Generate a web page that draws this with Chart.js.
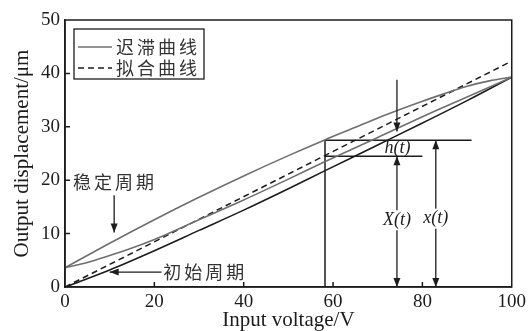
<!DOCTYPE html>
<html>
<head>
<meta charset="utf-8">
<script src="https://cdn.jsdelivr.net/npm/chart.js@4/dist/chart.umd.min.js"></script>
<style>
html, body { margin: 0; padding: 0; background: #fff; }
#marco { width: 530px; height: 331px; }
</style>
</head>
<body>
<div id="marco"><canvas id="grafico-histeresis"></canvas></div>
<script>
/* Datos */

// ciclo estable, rama de subida
var xSubida = [0, 10, 20, 30, 40, 50, 58, 65, 72, 80, 86, 90, 95, 100];
var ySubida = [3.6, 8.2, 12.6, 16.8, 20.8, 24.6, 27.5, 29.9, 32.3, 34.8, 36.5, 37.6, 38.6, 39.3];

// ciclo estable, rama de bajada
var xBajada = [0, 5, 10, 15, 20, 30, 40, 50, 58, 70, 80, 90, 100];
var yBajada = [3.6, 4.6, 5.9, 7.3, 8.9, 12.6, 16.3, 20.2, 23.4, 28.0, 31.9, 35.6, 39.3];

// ciclo inicial
var xInicial = [0, 10, 20, 30, 40, 50, 58, 70, 80, 90, 100];
var yInicial = [0, 3.2, 6.8, 10.6, 14.4, 18.4, 21.7, 26.6, 30.7, 34.9, 39.3];

// curva ajustada (recta)
var xAjuste = [0, 100];
var yAjuste = [0, 42.3];

// lineas de referencia h(t)
var xCorte = 58.2;
var xReal = 27.5, xAjustado = 24.5;
var finReal = 91, finAjustado = 80;
var xFlechaX = 74.3, xFlechax = 83.0;

var ticksX = [0, 20, 40, 60, 80, 100];
var ticksY = [0, 10, 20, 30, 40, 50];

var textosLeyenda = ['迟滞曲线', '拟合曲线'];

function puntos(xs, ys) {
    return xs.map(function (x, i) { return { x: x, y: ys[i] }; });
}

var gris = '#6f6f6f';
var negro = '#1c1c1c';
var serif = '"Liberation Serif", "Times New Roman", serif';
var cjk = '"Noto Sans CJK SC", sans-serif';

function textoEspaciado(ctx, txt, x, y, paso) {
    for (var i = 0; i < txt.length; i++) {
        ctx.fillText(txt[i], x + i * paso, y);
    }
}

function flecha(ctx, x1, y1, x2, y2) {
    ctx.beginPath();
    ctx.moveTo(x1, y1);
    ctx.lineTo(x2, y2);
    ctx.stroke();
    var ang = Math.atan2(y2 - y1, x2 - x1);
    var largo = 9, ancho = 3.5;
    ctx.beginPath();
    ctx.moveTo(x2, y2);
    ctx.lineTo(x2 - largo * Math.cos(ang) + ancho * Math.sin(ang), y2 - largo * Math.sin(ang) - ancho * Math.cos(ang));
    ctx.lineTo(x2 - largo * Math.cos(ang) - ancho * Math.sin(ang), y2 - largo * Math.sin(ang) + ancho * Math.cos(ang));
    ctx.closePath();
    ctx.fill();
}

var anotaciones = {
    id: 'anotaciones',
    afterDraw: function (chart) {
        var ctx = chart.ctx, a = chart.chartArea;
        var sx = chart.scales.x, sy = chart.scales.y;
        function px(v) { return sx.getPixelForValue(v); }
        function py(v) { return sy.getPixelForValue(v); }

        ctx.save();
        ctx.strokeStyle = negro;
        ctx.fillStyle = negro;
        ctx.lineWidth = 1.5;

        // marco completo
        ctx.strokeRect(a.left, a.top, a.right - a.left, a.bottom - a.top);

        // marcas interiores
        ctx.beginPath();
        ticksY.slice(1, -1).forEach(function (v) {
            ctx.moveTo(a.left, py(v));
            ctx.lineTo(a.left + 5, py(v));
        });
        ticksX.slice(1, -1).forEach(function (v) {
            ctx.moveTo(px(v), a.bottom);
            ctx.lineTo(px(v), a.bottom - 5);
        });
        ctx.stroke();

        // flechas de x(t) y X(t)
        ctx.lineWidth = 1.3;
        flecha(ctx, px(xFlechaX), py(12.5), px(xFlechaX), py(0));
        flecha(ctx, px(xFlechaX), py(12.5), px(xFlechaX), py(xAjustado));
        flecha(ctx, px(xFlechax), py(12.5), px(xFlechax), py(0));
        flecha(ctx, px(xFlechax), py(12.5), px(xFlechax), py(xReal));
        flecha(ctx, px(xFlechaX), py(38.8), px(xFlechaX), py(29.1));

        // flechas de los ciclos
        flecha(ctx, px(11), py(17.2), px(11), py(10.2));
        flecha(ctx, px(21.6), py(2.8), px(10), py(2.8));

        // etiquetas en cursiva
        ctx.font = 'italic 18px ' + serif;
        ctx.textAlign = 'center';
        ctx.textBaseline = 'middle';
        [['X(t)', xFlechaX, 12.5], ['x(t)', xFlechax, 12.8]].forEach(function (e) {
            var w = ctx.measureText(e[0]).width;
            ctx.fillStyle = '#fff';
            ctx.fillRect(px(e[1]) - w / 2 - 1, py(e[2]) - 10, w + 2, 20);
            ctx.fillStyle = negro;
            ctx.fillText(e[0], px(e[1]), py(e[2]));
        });
        ctx.fillText('h(t)', px(74.4), py(26.0));

        // textos de los ciclos
        ctx.font = '18px ' + cjk;
        ctx.fillStyle = '#333';
        ctx.textAlign = 'left';
        textoEspaciado(ctx, '稳定周期', px(1.8), py(19.7), 21);
        textoEspaciado(ctx, '初始周期', px(22.0), py(2.8), 21);

        // leyenda
        var lx = a.left + 9, ly = a.top + 9;
        ctx.lineWidth = 1.3;
        ctx.strokeStyle = negro;
        ctx.strokeRect(lx, ly, 130, 50);
        ctx.lineWidth = 1.5;
        ctx.strokeStyle = gris;
        ctx.beginPath();
        ctx.moveTo(lx + 4, ly + 18);
        ctx.lineTo(lx + 38, ly + 18);
        ctx.stroke();
        ctx.strokeStyle = negro;
        ctx.setLineDash([6, 4]);
        ctx.beginPath();
        ctx.moveTo(lx + 4, ly + 39);
        ctx.lineTo(lx + 38, ly + 39);
        ctx.stroke();
        ctx.setLineDash([]);
        textoEspaciado(ctx, textosLeyenda[0], lx + 42, ly + 18, 21);
        textoEspaciado(ctx, textosLeyenda[1], lx + 42, ly + 39, 21);

        // titulos de ejes
        ctx.fillStyle = negro;
        ctx.font = '21px ' + serif;
        ctx.textAlign = 'center';
        ctx.fillText('Input voltage/V', (a.left + a.right) / 2, chart.height - 11);
        ctx.translate(22, (a.top + a.bottom) / 2);
        ctx.rotate(-Math.PI / 2);
        ctx.fillText('Output displacement/μm', 0, 0);
        ctx.restore();
    }
};

var marco = document.getElementById('grafico-histeresis').getContext('2d');

var grafico = new Chart(marco, {
    type: 'line',
    data: {
        datasets: [
            { data: puntos(xSubida, ySubida), borderColor: gris, borderWidth: 1.6, cubicInterpolationMode: 'monotone' },
            { data: puntos(xBajada, yBajada), borderColor: gris, borderWidth: 1.6, cubicInterpolationMode: 'monotone' },
            { data: puntos(xInicial, yInicial), borderColor: negro, borderWidth: 1.6, cubicInterpolationMode: 'monotone' },
            { data: puntos(xAjuste, yAjuste), borderColor: negro, borderWidth: 1.5, borderDash: [6, 4] },
            // referencias de h(t)
            { data: [{ x: xCorte, y: 0 }, { x: xCorte, y: xReal }], borderColor: negro, borderWidth: 1.5 },
            { data: [{ x: xCorte, y: xReal }, { x: finReal, y: xReal }], borderColor: negro, borderWidth: 1.5 },
            { data: [{ x: xCorte, y: xAjustado }, { x: finAjustado, y: xAjustado }], borderColor: negro, borderWidth: 1.5 }
        ]
    },
    options: {
        responsive: true,
        maintainAspectRatio: false,
        animation: false,
        elements: { point: { radius: 0 } },
        layout: { padding: { top: 20, right: 18, left: 0, bottom: 0 }, autoPadding: false },
        plugins: { legend: { display: false }, tooltip: { enabled: false } },
        scales: {
            x: {
                type: 'linear',
                min: 0,
                max: 100,
                afterFit: function (s) { s.height = 44; },
                afterBuildTicks: function (s) { s.ticks = ticksX.map(function (v) { return { value: v }; }); },
                grid: { display: false, drawTicks: false },
                border: { display: true, color: negro, width: 1.5 },
                ticks: { padding: 4, color: negro, maxRotation: 0, font: { family: serif, size: 19 } }
            },
            y: {
                type: 'linear',
                min: 0,
                max: 50,
                afterFit: function (s) { s.width = 65; },
                afterBuildTicks: function (s) { s.ticks = ticksY.map(function (v) { return { value: v }; }); },
                grid: { display: false, drawTicks: false },
                border: { display: true, color: negro, width: 1.5 },
                ticks: { padding: 5, color: negro, font: { family: serif, size: 19 } }
            }
        }
    },
    plugins: [anotaciones]
});
</script>
</body>
</html>
